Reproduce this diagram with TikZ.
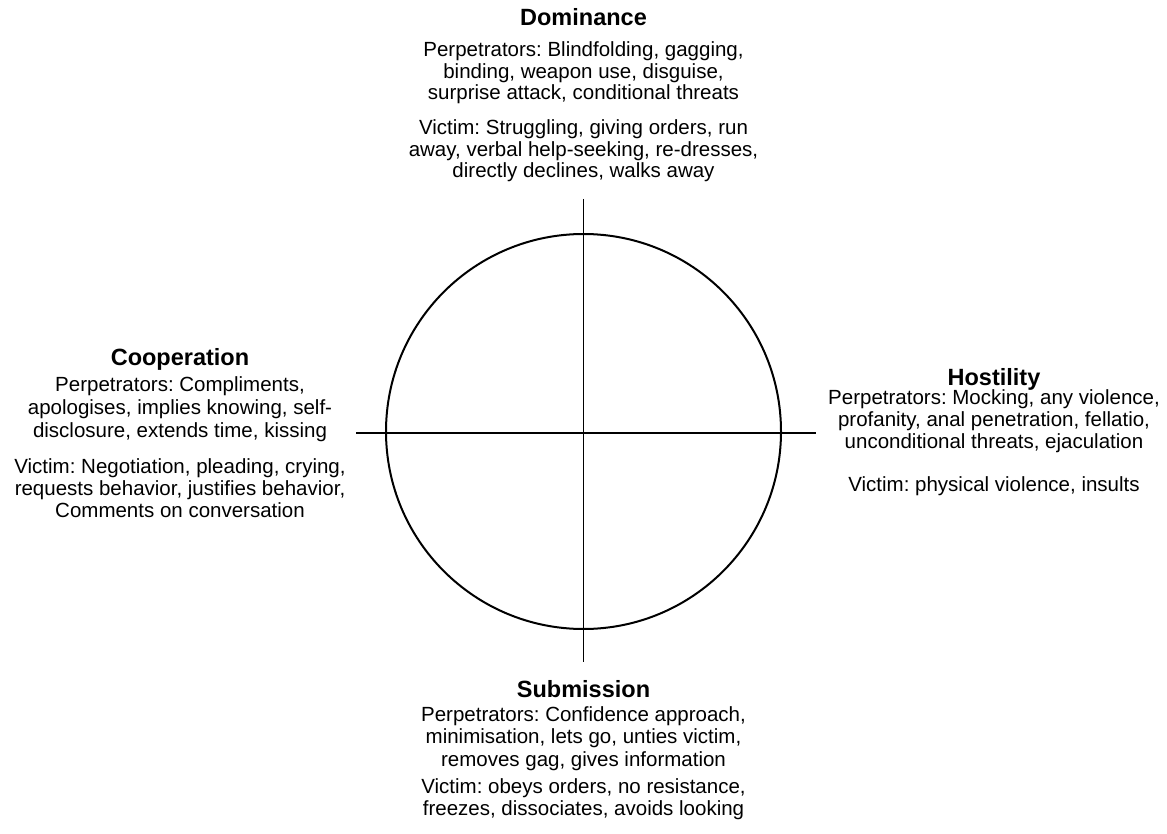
\documentclass[tikz,border=0pt]{standalone}
\usepackage{fontspec}
\setmainfont{Liberation Sans}
\frenchspacing
\begin{document}
\begin{tikzpicture}[x=1pt,y=-1pt,
  body/.style={align=center,inner sep=0pt,font=\fontsize{20.5}{21.7}\selectfont\frenchspacing,anchor=base},
  widebody/.style={body,font=\fontsize{20.5}{23}\selectfont\frenchspacing},
  midbody/.style={body,font=\fontsize{20.5}{22.5}\selectfont\frenchspacing},
  ttl/.style={inner sep=0pt,font=\fontsize{23.5}{26}\selectfont\bfseries,anchor=base},
  axisline/.style={line width=1.3pt},
  ring/.style={line width=2pt}]
\useasboundingbox[fill=white] (0,0) rectangle (1167,834);
\coordinate (c) at (583.5,431.5);
\coordinate (top) at (583.5,199);
\coordinate (bot) at (583.5,662);
\coordinate (left) at (356,433);
\coordinate (right) at (816,433);
\draw[ring] (c) circle (197.5pt);
\draw[axisline] (top) -- (bot);
\draw[axisline] (left) -- (right);

% Dominance
\node[ttl] (domt) at (583.5,25.5) {Dominance};
\node[body] (domp) at (583.5,100) {Perpetrators: Blindfolding, gagging,\\binding, weapon use, disguise,\\surprise attack, conditional threats};
\node[body] (domv) at (583.5,178) {Victim: Struggling, giving orders, run\\away, verbal help-seeking, re-dresses,\\directly declines, walks away};

% Cooperation
\node[ttl] (coot) at (180,365.5) {Cooperation};
\node[widebody] (coop) at (180,437) {Perpetrators: Compliments,\\apologises, implies knowing, self-\\disclosure, extends time, kissing};
\node[body] (coov) at (180,517) {Victim: Negotiation, pleading, crying,\\requests behavior, justifies behavior,\\Comments on conversation};

% Hostility
\node[ttl] (host) at (994,385) {Hostility};
\node[body] (hosp) at (994,448) {Perpetrators: Mocking, any violence,\\profanity, anal penetration, fellatio,\\unconditional threats, ejaculation};
\node[body] (hosv) at (994,491) {Victim: physical violence, insults};

% Submission
\node[ttl] (subt) at (583.5,697.5) {Submission};
\node[midbody] (subp) at (583.5,766) {Perpetrators: Confidence approach,\\minimisation, lets go, unties victim,\\removes gag, gives information};
\node[body] (subv) at (583.5,815) {Victim: obeys orders, no resistance,\\freezes, dissociates, avoids looking};
\end{tikzpicture}
\end{document}
